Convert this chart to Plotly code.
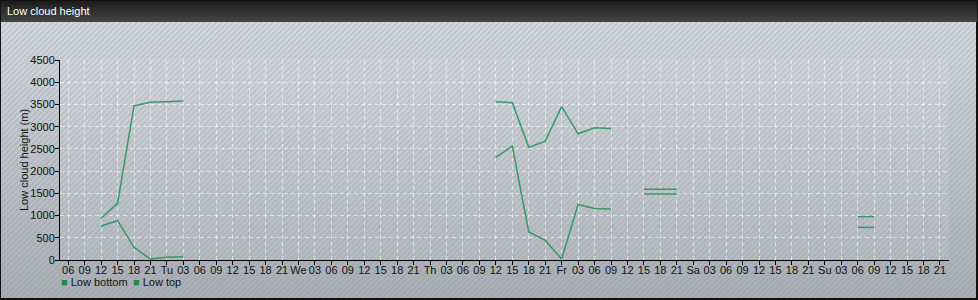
import base64
import plotly.graph_objects as go

# ---- data -------------------------------------------------------------
tick_labels = [
    "06", "09", "12", "15", "18", "21",
    "Tu", "03", "06", "09", "12", "15", "18", "21",
    "We", "03", "06", "09", "12", "15", "18", "21",
    "Th", "03", "06", "09", "12", "15", "18", "21",
    "Fr", "03", "06", "09", "12", "15", "18", "21",
    "Sa", "03", "06", "09", "12", "15", "18", "21",
    "Su", "03", "06", "09", "12", "15", "18", "21",
]

N = None
low_top = [
    N, N, 940, 1275, 3470, 3550,
    3560, 3575, N, N, N, N, N, N,
    N, N, N, N, N, N, N, N,
    N, N, N, N, 3560, 3540, 2535, 2675,
    3450, 2840, 2975, 2960, N, 1590, 1590, 1590,
    N, N, N, N, N, N, N, N,
    N, N, 975, 975, N, N, N, N,
]
low_bottom = [
    N, N, 765, 885, 285, 20,
    60, 75, N, N, N, N, N, N,
    N, N, N, N, N, N, N, N,
    N, N, N, N, 2310, 2565, 630, 440,
    25, 1250, 1160, 1150, N, 1485, 1485, 1485,
    N, N, N, N, N, N, N, N,
    N, N, 735, 735, N, N, N, N,
]
series_names = ["Low bottom", "Low top"]
positions = list(range(len(tick_labels)))

# ---- style ------------------------------------------------------------
W, H = 978, 300
ML, MR, MT, MB = 60, 29, 60, 40
PW, PH = W - ML - MR, H - MT - MB
LINE = "#35996a"
FONT = "Liberation Sans, Arial, sans-serif"
GRID = "rgba(255,255,255,0.55)"

svg = f"""<svg xmlns='http://www.w3.org/2000/svg' width='{W}' height='{H}' viewBox='0 0 {W} {H}'>
<defs>
<linearGradient id='tb' x1='0' y1='0' x2='0' y2='1'><stop offset='0' stop-color='#1c1c1c'/><stop offset='1' stop-color='#464646'/></linearGradient>
<linearGradient id='bg' x1='0' y1='0' x2='0' y2='1'><stop offset='0' stop-color='#d6d9dd'/><stop offset='1' stop-color='#abafb3'/></linearGradient>
<pattern id='h' width='4' height='4' patternUnits='userSpaceOnUse' patternTransform='rotate(45)'><rect x='0' y='0' width='1.5' height='4' fill='#7f90a6' fill-opacity='0.3'/></pattern>
</defs>
<rect width='{W}' height='{H}' fill='#111'/>
<rect x='1' y='1' width='{W-2}' height='21' fill='url(#tb)'/>
<rect x='1' y='22' width='{W-3}' height='{H-24}' fill='url(#bg)'/>
<rect x='1' y='22' width='{W-3}' height='{H-24}' fill='url(#h)'/>
<rect x='{ML}' y='{MT-2}' width='{PW}' height='{PH+2}' fill='#fff' fill-opacity='0.08'/>
</svg>"""
src = "data:image/svg+xml;base64," + base64.b64encode(svg.encode()).decode()

fig = go.Figure()
for name, vals in zip(series_names, [low_bottom, low_top]):
    fig.add_trace(go.Scatter(
        x=positions, y=vals, mode="lines", name=name,
        line=dict(color=LINE, width=1.5), connectgaps=False,
        showlegend=False, hoverinfo="skip",
    ))

fig.add_layout_image(dict(
    source=src, xref="paper", yref="paper",
    x=-ML / PW, y=1 + MT / PH, sizex=W / PW, sizey=H / PH,
    xanchor="left", yanchor="top", sizing="stretch", layer="below",
))

# title
fig.add_annotation(
    text="Low cloud height", xref="paper", yref="paper",
    x=(5 - ML) / PW, y=1 + (MT - 11) / PH, xanchor="left", yanchor="middle",
    showarrow=False, font=dict(family=FONT, size=11, color="#ffffff"),
)
# y-axis title
fig.add_annotation(
    text="Low cloud height (m)", xref="paper", yref="paper",
    x=(24 - ML) / PW, y=0.5, xanchor="center", yanchor="middle",
    textangle=-90, showarrow=False,
    font=dict(family=FONT, size=11, color="#111111"),
)
# legend
leg_y = -(282 - (MT + PH)) / PH
leg_x = [-1 / PW, (131 - ML) / PW]
for name, lx in zip(series_names, leg_x):
    fig.add_annotation(
        text=f"<span style='color:#1f8a4c;font-size:11px'>■ </span>{name}",
        xref="paper", yref="paper", x=lx, y=leg_y,
        xanchor="left", yanchor="middle", showarrow=False,
        font=dict(family=FONT, size=11, color="#111111"),
    )

axis_common = dict(
    showline=True, linecolor="#000", linewidth=1, mirror=False,
    ticks="outside", ticklen=4, tickcolor="#000", tickwidth=1,
    showgrid=True, gridcolor=GRID, gridwidth=1, griddash="4px,3px",
    zeroline=False, tickfont=dict(family=FONT, size=11, color="#111"),
)

fig.update_layout(
    width=W, height=H,
    margin=dict(l=ML, r=MR, t=MT, b=MB, pad=0),
    paper_bgcolor="#bcc0c4", plot_bgcolor="rgba(0,0,0,0)",
    font=dict(family=FONT, size=11, color="#111"),
    showlegend=False,
    xaxis=dict(
        range=[-0.5, 53.55], tickmode="array", tickvals=positions,
        ticktext=tick_labels, tickangle=0, ticklabelstandoff=-4, **axis_common,
    ),
    yaxis=dict(
        range=[0, 4500], tickmode="linear", tick0=0, dtick=500,
        ticklabelstandoff=-2, **axis_common,
    ),
)

fig.write_html("out.html")
